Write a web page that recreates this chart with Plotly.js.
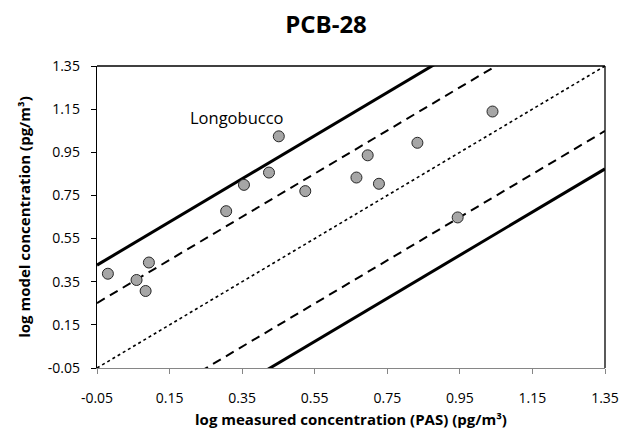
<!DOCTYPE html>
<html>
<head>
<meta charset="utf-8">
<script src="https://cdn.plot.ly/plotly-3.0.1.min.js"></script>
<style>html,body{margin:0;padding:0;background:#fff;}#chart{width:621px;height:439px;}</style>
</head>
<body>
<div id="chart"></div>
<script>
// Measured (PAS) vs model concentrations, log scale values
var measured = [-0.020, 0.059, 0.084, 0.093, 0.306, 0.355, 0.424, 0.451, 0.524, 0.665, 0.696, 0.727, 0.833, 0.944, 1.040];
var model    = [0.387, 0.358, 0.307, 0.439, 0.677, 0.799, 0.856, 1.024, 0.770, 0.833, 0.936, 0.804, 0.994, 0.648, 1.139];

// Reference lines: end points along x
var lineX = [-0.05, 1.35];
var oneToOne   = [-0.05, 1.35];
var upperTwo   = [0.251, 1.651];
var lowerTwo   = [-0.351, 1.049];
var upperThree = [0.427, 1.827];
var lowerThree = [-0.527, 0.873];

var tickVals = [-0.05, 0.15, 0.35, 0.55, 0.75, 0.95, 1.15, 1.35];
var tickText = ['-0.05', '0.15', '0.35', '0.55', '0.75', '0.95', '1.15', '1.35'];

var fontFam = 'Open Sans, Noto Sans, sans-serif';

function line(y, dash, w) {
  return {x: lineX, y: y, mode: 'lines', type: 'scatter', hoverinfo: 'skip',
          line: {color: '#000', width: w, dash: dash}, showlegend: false};
}

var data = [
  line(oneToOne, 'dot', 1.6),
  line(upperTwo, '9px,6px', 2),
  line(lowerTwo, '9px,6px', 2),
  line(upperThree, 'solid', 3),
  line(lowerThree, 'solid', 3),
  {x: measured, y: model, mode: 'markers', type: 'scatter', showlegend: false,
   marker: {size: 11, color: '#a6a6a6', line: {color: '#262626', width: 1}}}
];

var axisCommon = {
  range: [-0.05, 1.35], tickmode: 'array', tickvals: tickVals, ticktext: tickText,
  showgrid: false, zeroline: false, ticks: 'outside', ticklen: 5,
  showline: true, linewidth: 1.3, mirror: false,
  tickfont: {family: fontFam, size: 14, color: '#000'}
};

var layout = {
  width: 621, height: 439,
  margin: {l: 97, r: 16, t: 66, b: 71},
  paper_bgcolor: '#fff', plot_bgcolor: '#fff',
  title: {text: '<b>PCB-28</b>', x: 0.525, xref: 'container', xanchor: 'center',
          y: 0.943, yref: 'container', yanchor: 'middle',
          font: {family: fontFam, size: 24, color: '#000'}},
  xaxis: Object.assign({}, axisCommon, {
    linecolor: '#868686', tickcolor: '#868686', ticklabelstandoff: 12,
    title: {text: '<b>log measured concentration (PAS) (pg/m³)</b>', standoff: 8,
            font: {family: fontFam, size: 15, color: '#000'}}
  }),
  yaxis: Object.assign({}, axisCommon, {
    linecolor: '#000', tickcolor: '#000', ticklabelstandoff: 8,
    title: {text: '<b>log model concentration (pg/m³)</b>', standoff: 13,
            font: {family: fontFam, size: 15, color: '#000'}}
  }),
  shapes: [
    {type: 'line', xref: 'paper', yref: 'paper', x0: 0, x1: 1, y0: 1, y1: 1, line: {color: '#000', width: 1.3}},
    {type: 'line', xref: 'paper', yref: 'paper', x0: 1, x1: 1, y0: 0, y1: 1, line: {color: '#000', width: 1.3}}
  ],
  annotations: [{x: 0.337, y: 1.111, xref: 'x', yref: 'y', text: 'Longobucco', showarrow: false,
                 font: {family: fontFam, size: 16.5, color: '#000'}}]
};

Plotly.newPlot('chart', data, layout, {displayModeBar: false, staticPlot: true});
</script>
</body>
</html>
